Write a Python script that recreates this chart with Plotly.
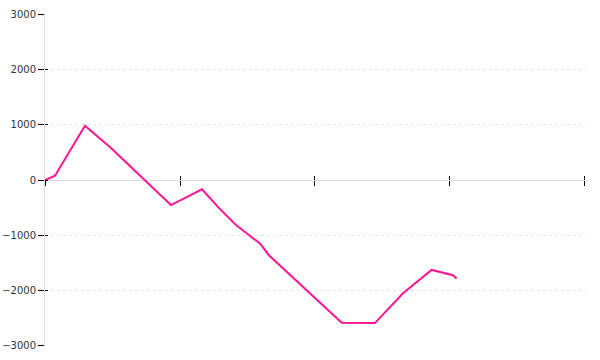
import plotly.graph_objects as go

# data
x_vals = [0.0, 0.074, 0.296, 0.481, 0.933, 1.163, 1.296, 1.415, 1.593, 1.659, 2.198, 2.444, 2.652, 2.864, 3.022, 3.049]
y_vals = [0, 78, 985, 600, -455, -169, -527, -818, -1151, -1364, -2587, -2595, -2055, -1631, -1727, -1787]
y_ticks = [-3000, -2000, -1000, 0, 1000, 2000, 3000]
x_ticks = [0, 1, 2, 3, 4]

fig = go.Figure()
fig.add_trace(go.Scatter(x=x_vals, y=y_vals, mode="lines",
                         line=dict(color="#ff1493", width=2), showlegend=False,
                         hoverinfo="skip"))
# invisible trace so the overlay axes (tick marks on the other side) are drawn
fig.add_trace(go.Scatter(x=[x_ticks[0]], y=[y_ticks[0]], mode="markers",
                         marker=dict(opacity=0), xaxis="x2", yaxis="y2",
                         showlegend=False, hoverinfo="skip"))

yr = [-3010, 3010]
xr = [0, 4.0075]
fig.update_layout(
    width=600, height=360,
    margin=dict(l=45, r=14, t=14, b=14, autoexpand=False),
    paper_bgcolor="white", plot_bgcolor="white",
    font=dict(family="DejaVu Sans", size=10, color="#333"),
    xaxis=dict(range=xr, tickvals=x_ticks, showticklabels=False,
               ticks="outside", ticklen=5, tickcolor="#000", tickwidth=1,
               showgrid=False, zeroline=False, showline=False,
               anchor="free", position=0.5, automargin=False),
    xaxis2=dict(range=xr, tickvals=x_ticks, showticklabels=False,
                ticks="inside", ticklen=4, tickcolor="#000", tickwidth=1,
                showgrid=False, zeroline=False, showline=False,
                overlaying="x", anchor="free", position=0.5, automargin=False),
    yaxis=dict(range=yr, tickvals=y_ticks, automargin=False,
               ticks="outside", ticklen=6, tickcolor="#000", tickwidth=1,
               showgrid=True, gridcolor="#e6e6e6", griddash="dot", gridwidth=1,
               zeroline=True, zerolinecolor="#dddddd", zerolinewidth=1,
               showline=True, linecolor="#dddddd", linewidth=1),
    yaxis2=dict(range=yr, tickvals=y_ticks, showticklabels=False, automargin=False,
                ticks="inside", ticklen=3, tickcolor="#000", tickwidth=1,
                showgrid=False, zeroline=False, showline=False,
                overlaying="y", side="left", anchor="x2"),
)

fig.write_html("out.html")
